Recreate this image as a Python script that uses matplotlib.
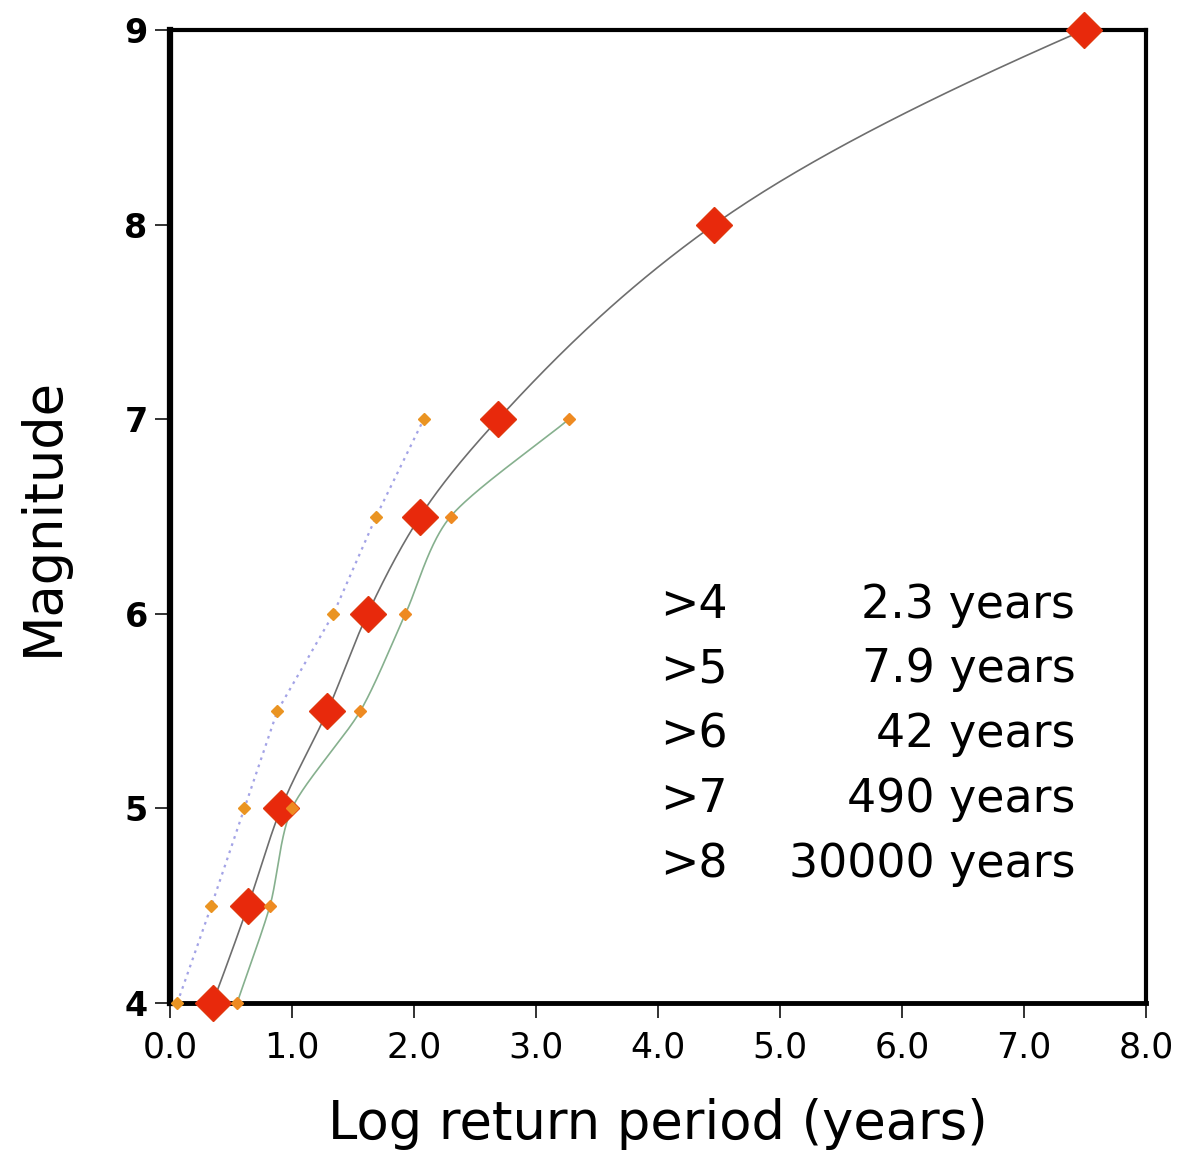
import numpy as np
import matplotlib
matplotlib.use("Agg")
import matplotlib.pyplot as plt

# Magnitude levels and log10 return periods (years)
magnitude = [4.0, 4.5, 5.0, 5.5, 6.0, 6.5, 7.0, 8.0, 9.0]
logrp_main = [0.35, 0.64, 0.91, 1.29, 1.62, 2.05, 2.69, 4.46, 7.49]

magnitude_short = [4.0, 4.5, 5.0, 5.5, 6.0, 6.5, 7.0]
logrp_low = [0.06, 0.34, 0.61, 0.88, 1.34, 1.69, 2.08]
logrp_high = [0.55, 0.82, 1.00, 1.56, 1.93, 2.30, 3.27]

thresholds = [">4", ">5", ">6", ">7", ">8"]
periods = ["2.3 years", "7.9 years", "42 years", "490 years", "30000 years"]

x_ticks = [0, 1, 2, 3, 4, 5, 6, 7, 8]
x_ticklabels = ["0.0", "1.0", "2.0", "3.0", "4.0", "5.0", "6.0", "7.0", "8.0"]
y_ticks = [4, 5, 6, 7, 8, 9]


def pchip_slopes(x, y):
    """Fritsch-Carlson monotone slopes dx/dy for a curve x(y)."""
    h = np.diff(y)
    d = np.diff(x) / h
    m = np.zeros_like(x)
    for k in range(1, len(x) - 1):
        if d[k - 1] * d[k] > 0:
            w1 = 2 * h[k] + h[k - 1]
            w2 = h[k] + 2 * h[k - 1]
            m[k] = (w1 + w2) / (w1 / d[k - 1] + w2 / d[k])
    for i, hh0, hh1, dd0, dd1 in ((0, h[0], h[1], d[0], d[1]),
                                  (-1, h[-1], h[-2], d[-1], d[-2])):
        s = ((2 * hh0 + hh1) * dd0 - hh0 * dd1) / (hh0 + hh1)
        if np.sign(s) != np.sign(dd0):
            s = 0.0
        elif np.sign(dd0) != np.sign(dd1) and abs(s) > abs(3 * dd0):
            s = 3 * dd0
        m[i] = s
    return m


T = np.linspace(0, 1, 60)
H00 = 2 * T**3 - 3 * T**2 + 1
H10 = T**3 - 2 * T**2 + T
H01 = -2 * T**3 + 3 * T**2
H11 = T**3 - T**2


def smooth_x_of_y(xs, ys):
    """Monotone cubic Hermite curve x(y) through the points."""
    x = np.asarray(xs, float)
    y = np.asarray(ys, float)
    m = pchip_slopes(x, y)
    px, py = [], []
    for i in range(len(x) - 1):
        h = y[i + 1] - y[i]
        px.append(H00 * x[i] + H10 * h * m[i] + H01 * x[i + 1] + H11 * h * m[i + 1])
        py.append(y[i] + T * h)
    return np.concatenate(px), np.concatenate(py)


def cardinal(xs, ys, sx=1.0, sy=1.6, tension=0.2):
    """Parametric cardinal spline, tangents computed in aspect-scaled space."""
    p = np.column_stack([np.asarray(xs, float) * sx, np.asarray(ys, float) * sy])
    m = np.empty_like(p)
    m[1:-1] = (1 - tension) * (p[2:] - p[:-2]) / 2
    m[0] = (1 - tension) * (p[1] - p[0])
    m[-1] = (1 - tension) * (p[-1] - p[-2])
    segs = []
    for i in range(len(p) - 1):
        segs.append(H00[:, None] * p[i] + H10[:, None] * m[i]
                    + H01[:, None] * p[i + 1] + H11[:, None] * m[i + 1])
    c = np.vstack(segs)
    return c[:, 0] / sx, c[:, 1] / sy


plt.rcParams["font.family"] = ["DejaVu Sans"]

fig = plt.figure(figsize=(11.86, 11.56), dpi=100)
ax = fig.add_axes([0.1433, 0.1324, 0.8230, 0.8416])

# Curves
cx, cy = smooth_x_of_y(logrp_main, magnitude)
ax.plot(cx, cy, color="#6e6e6e", lw=1.2, zorder=2)
hx, hy = cardinal(logrp_high, magnitude_short)
ax.plot(hx, hy, color="#86b08e", lw=1.2, zorder=2)
ax.plot(logrp_low, magnitude_short, color="#a3a3e6", lw=1.6,
        ls=(0, (1.2, 2.2)), zorder=2)

# Markers
ax.plot(logrp_main, magnitude, ls="none", marker="D", ms=18,
        color="#e8290c", mec="#e0360e", mew=1, zorder=7, clip_on=False)
ax.plot(logrp_low, magnitude_short, ls="none", marker="D", ms=6.5,
        color="#ea9422", mec="#ea9422", zorder=8, clip_on=False)
ax.plot(logrp_high, magnitude_short, ls="none", marker="D", ms=6.5,
        color="#ee8a22", mec="#ee8a22", zorder=8, clip_on=False)

ax.set_xlim(0, 8)
ax.set_ylim(4, 9)
ax.set_xticks(x_ticks)
ax.set_xticklabels(x_ticklabels, fontsize=25)
ax.set_yticks(y_ticks)
ax.set_yticklabels([str(v) for v in y_ticks], fontsize=24, fontweight="bold")
ax.tick_params(axis="both", direction="out", length=11, width=1.3,
               color="#222222")
ax.tick_params(axis="x", pad=9)
ax.tick_params(axis="y", pad=5)

for side, w in {"left": 4.5, "bottom": 3.5, "top": 3, "right": 3}.items():
    ax.spines[side].set_linewidth(w)
    ax.spines[side].set_color("black")
    ax.spines[side].set_zorder(6)

ax.set_xlabel("Log return period (years)", fontsize=38, labelpad=24)
ax.set_ylabel("Magnitude", fontsize=38, labelpad=40)

# Return-period table
row_y = np.linspace(6.045, 4.71, len(thresholds))
for ry, th, per in zip(row_y, thresholds, periods):
    ax.text(4.02, ry, th, fontsize=33, ha="left", va="center", zorder=9)
    ax.text(7.42, ry, per, fontsize=33, ha="right", va="center", zorder=9)

fig.savefig("out.png", dpi=100)
